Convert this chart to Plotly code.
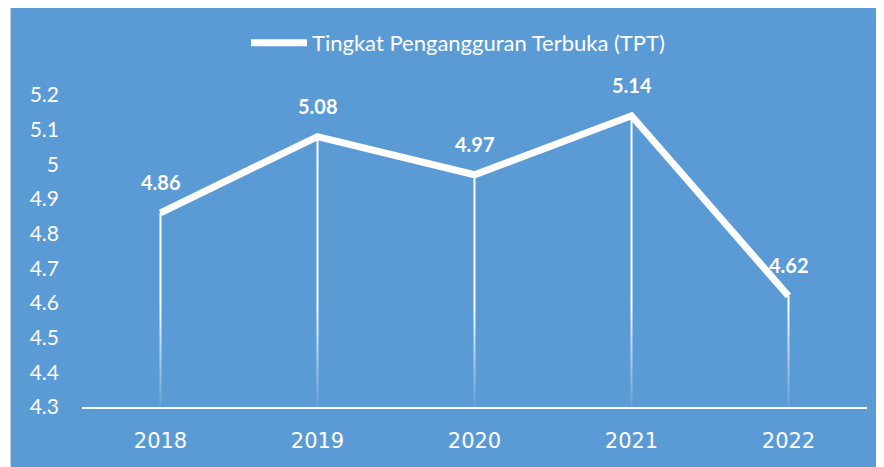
import plotly.graph_objects as go

years = ["2018", "2019", "2020", "2021", "2022"]
tpt = [4.86, 5.08, 4.97, 5.14, 4.62]
y_ticks = [4.3, 4.4, 4.5, 4.6, 4.7, 4.8, 4.9, 5.0, 5.1, 5.2]
y_tick_labels = ["4.3", "4.4", "4.5", "4.6", "4.7", "4.8", "4.9", "5", "5.1", "5.2"]
series_name = "Tingkat Pengangguran Terbuka (TPT)"

BLUE = "#5B9BD5"
base = y_ticks[0]

L, R, T, B = 73.5, 24.5, 87, 68
PW = 884 - L - R
PH = 467 - T - B

fig = go.Figure()

# drop lines: thin polygons with a vertical white-to-transparent gradient
half_w = 1.0 / (PW / len(years))  # ~1px each side, in category units
for i, v in enumerate(tpt):
    fig.add_trace(go.Scatter(
        x=[i - half_w, i + half_w, i + half_w, i - half_w, i - half_w],
        y=[base, base, v, v, base],
        xaxis="x2", mode="lines", fill="toself",
        line=dict(width=0, color="rgba(0,0,0,0)"),
        fillgradient=dict(type="vertical", start=base, stop=base + 0.3,
                          colorscale=[[0, "rgba(255,255,255,0.05)"], [1, "rgba(255,255,255,1)"]]),
        showlegend=False, hoverinfo="skip",
    ))

fig.add_trace(go.Scatter(
    x=years, y=tpt, mode="lines", name=series_name,
    line=dict(color="white", width=7),
    showlegend=True, hoverinfo="skip",
))

annotations = []
for i, v in enumerate(tpt):
    annotations.append(dict(xref="x", yref="y", x=i, y=v, text=f"<b>{v:.2f}</b>",
                            showarrow=False, yshift=31,
                            font=dict(family="Lato", size=20, color="white")))

bg = dict(type="rect", xref="paper", yref="paper",
          x0=(2 - L) / PW, x1=(884 - L + 20) / PW,
          y0=-(B + 20) / PH, y1=(PH + T + 20) / PH,
          fillcolor=BLUE, line=dict(width=0), layer="below")

fig.update_layout(
    width=884, height=467,
    margin=dict(l=L, r=R, t=T, b=B),
    paper_bgcolor="white",
    plot_bgcolor="rgba(0,0,0,0)",
    shapes=[bg],
    annotations=annotations,
    showlegend=True,
    legend=dict(orientation="h", x=(450 - L) / PW, xanchor="center",
                y=(PH + T - 35) / PH, yanchor="middle",
                font=dict(family="Lato", size=22, color="white"), bgcolor="rgba(0,0,0,0)",
                itemwidth=56),
    xaxis=dict(type="category", range=[-0.5, 4.5], showgrid=False, zeroline=False,
               showline=True, linecolor="white", linewidth=2, ticks="",
               tickfont=dict(family="DejaVu Sans", size=21, color="white"),
               ticklabelstandoff=14, fixedrange=True),
    xaxis2=dict(type="linear", overlaying="x", range=[-0.5, 4.5], visible=False,
                fixedrange=True),
    yaxis=dict(range=[4.3, 5.2], tickvals=y_ticks, ticktext=y_tick_labels,
               showgrid=False, zeroline=False, showline=False, ticks="",
               tickfont=dict(family="Lato", size=21, color="white"),
               ticklabelstandoff=22, fixedrange=True),
)

fig.write_html("out.html")
